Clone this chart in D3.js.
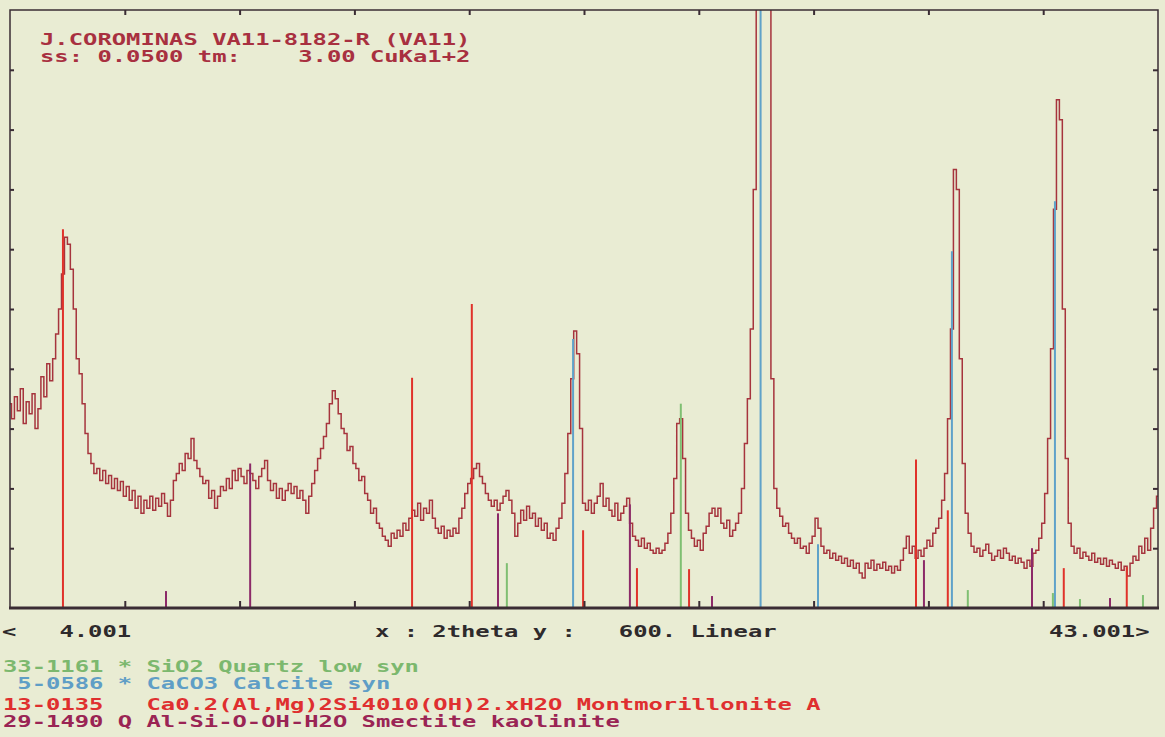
<!DOCTYPE html>
<html>
<head>
<meta charset="utf-8">
<script src="https://cdn.jsdelivr.net/npm/d3@7"></script>
<style>
html, body { margin: 0; padding: 0; background: #e9ecd3; }
svg { display: block; }
text { font-family: "DejaVu Sans Mono", monospace; font-weight: bold; }
</style>
</head>
<body>
<svg id="chart" width="1165" height="737"></svg>
<script>
/////////////////////////
// scan data (2theta, counts)
/////////////////////////
const scanStart = 4.001;
const scanEnd = 43.001;
const scanStep = 0.1;
const fullScale = 600;

// counts, one per scan step
const counts = [
  205,190,212,198,220,185,207,195,215,180,
  200,232,212,245,228,250,275,300,335,372,
  365,340,300,250,235,205,175,155,145,135,
  140,128,138,125,133,120,130,118,127,112,
  122,108,118,100,112,95,108,100,112,98,
  110,102,115,105,92,108,128,135,145,138,
  155,150,170,148,140,132,125,128,110,118,
  100,112,122,118,130,120,138,128,140,132,
  125,138,135,128,120,132,140,148,128,118,
  125,110,120,108,118,125,115,122,110,118,
  108,95,112,125,138,150,160,172,185,205,
  218,210,195,180,175,158,162,145,140,128,
  132,115,108,95,100,85,80,72,68,62,
  75,70,78,72,85,78,90,98,92,105,
  88,100,95,108,90,80,75,82,70,78,
  72,80,75,90,100,115,125,130,140,145,
  132,125,115,108,102,108,98,105,112,118,
  108,95,72,85,98,88,102,90,95,82,
  90,78,85,70,75,68,80,90,105,135,
  175,230,278,255,180,105,98,108,95,105,
  112,125,102,110,98,92,105,88,95,102,
  110,85,72,68,62,70,60,65,58,55,
  60,55,58,65,75,95,130,185,190,150,
  95,78,70,62,68,58,75,82,95,100,
  92,100,85,80,88,72,78,85,95,120,
  165,210,280,420,700,900,900,850,620,230,
  120,100,92,82,85,75,70,65,70,60,
  62,55,65,72,90,80,62,55,58,50,
  55,48,52,45,50,42,48,40,45,35,
  30,45,40,48,38,44,40,46,38,42,
  35,42,38,48,60,72,55,62,50,58,
  52,60,68,62,75,80,90,108,135,190,
  280,440,420,250,145,95,75,62,56,60,
  52,58,64,55,48,52,58,50,60,55,
  48,52,45,50,46,40,48,42,55,58,
  70,85,115,170,260,400,510,490,300,150,
  85,62,55,60,50,56,52,48,55,46,
  50,44,50,42,48,44,40,46,38,42,
  32,45,52,48,62,55,70,58,80,100,
  112
];

// reference cards: [2theta, stick height]
const quartzLines = [[20.88,45],[26.79,205],[36.54,18],[39.43,15],[40.35,9],[42.49,13]];
const calciteLines = [[23.13,270],[29.50,900],[31.45,64],[36.00,358],[39.50,408]];
const montmorilloniteLines = [[5.80,380],[17.66,231],[19.69,305],[23.47,78],[25.30,40],[27.07,39],[34.78,149],[35.86,98],[39.80,40],[41.94,41]];
const smectiteLines = [[9.30,17],[12.16,145],[20.58,95],[25.06,104],[27.85,12],[35.05,48],[38.72,60],[41.37,10]];

const headerLines = [
  "J.COROMINAS VA11-8182-R (VA11)",
  "ss: 0.0500 tm:    3.00 CuKa1+2"
];
const axisLine = "<   4.001                 x : 2theta y :   600. Linear                   43.001>";
const legendLines = [
  "33-1161 * SiO2 Quartz low syn",
  " 5-0586 * CaCO3 Calcite syn",
  "13-0135   Ca0.2(Al,Mg)2Si4010(OH)2.xH2O Montmorillonite A",
  "29-1490 Q Al-Si-O-OH-H2O Smectite kaolinite"
];

/////////////////////////
// layout
/////////////////////////
const W = 1165, H = 737;
const plot = { left: 10, right: 1158, top: 10, bottom: 608 };
const colW = W / 80; // 80 column text screen

const col = {
  trace: "#a6343d",
  quartz: "#7fbf72",
  calcite: "#5fa2c9",
  mont: "#e0322a",
  smec: "#8c2a68",
  axis: "#3a2c34",
  header: "#a83040"
};
const legendColors = ["#7cb86e", "#5f9ec6", "#df2f2f", "#9a2454"];

const x = d3.scaleLinear().domain([scanStart, scanEnd]).range([plot.left, plot.right]);
const y = d3.scaleLinear().domain([0, fullScale]).range([plot.bottom, plot.top]);

const svg = d3.select("#chart");
svg.append("rect").attr("width", W).attr("height", H).attr("fill", "#e9ecd3");

svg.append("defs").append("clipPath").attr("id", "clip")
  .append("rect")
  .attr("x", plot.left).attr("y", plot.top)
  .attr("width", plot.right - plot.left).attr("height", plot.bottom - plot.top);

const g = svg.append("g").attr("clip-path", "url(#clip)");

// trace
const pts = counts.map((c, i) => [scanStart + i * scanStep, c]);
g.append("path")
  .datum(pts)
  .attr("fill", "none")
  .attr("stroke", col.trace)
  .attr("stroke-width", 1.5)
  .attr("d", d3.line().x(d => x(d[0])).y(d => y(d[1])).curve(d3.curveStep));

// sticks
const cards = [
  { lines: montmorilloniteLines, color: col.mont },
  { lines: smectiteLines, color: col.smec },
  { lines: quartzLines, color: col.quartz },
  { lines: calciteLines, color: col.calcite }
];
cards.forEach(c => {
  g.append("g").selectAll("line")
    .data(c.lines)
    .enter().append("line")
    .attr("x1", d => x(d[0])).attr("x2", d => x(d[0]))
    .attr("y1", y(0)).attr("y2", d => y(d[1]))
    .attr("stroke", c.color)
    .attr("stroke-width", 2);
});

// frame + inward ticks
const xTicks = d3.range(1, 10).map(k => scanStart + k * (scanEnd - scanStart) / 10);
const yTicks = d3.range(1, 10).map(k => k * fullScale / 10);

function styleAxis(sel) {
  sel.selectAll("text").remove();
  sel.selectAll("line").attr("stroke", col.axis).attr("stroke-width", 2);
  sel.select(".domain").attr("stroke", "none");
}

svg.append("g").attr("transform", `translate(0,${plot.bottom})`)
  .call(d3.axisBottom(x).tickValues(xTicks).tickSize(-7).tickFormat("")).call(styleAxis);
svg.append("g").attr("transform", `translate(0,${plot.top})`)
  .call(d3.axisTop(x).tickValues(xTicks).tickSize(-5).tickFormat("")).call(styleAxis);
svg.append("g").attr("transform", `translate(${plot.left},0)`)
  .call(d3.axisLeft(y).tickValues(yTicks).tickSize(-4).tickFormat("")).call(styleAxis);
svg.append("g").attr("transform", `translate(${plot.right},0)`)
  .call(d3.axisRight(y).tickValues(yTicks).tickSize(-5).tickFormat("")).call(styleAxis);

svg.append("rect")
  .attr("x", plot.left).attr("y", plot.top)
  .attr("width", plot.right - plot.left).attr("height", plot.bottom - plot.top)
  .attr("fill", "none").attr("stroke", col.axis).attr("stroke-width", 1.5);
svg.append("line")
  .attr("x1", plot.left - 1).attr("x2", plot.right + 1)
  .attr("y1", plot.bottom).attr("y2", plot.bottom)
  .attr("stroke", col.axis).attr("stroke-width", 3);

/////////////////////////
// texts
/////////////////////////
function screenText(str, x0, baseline, color, size) {
  svg.append("text")
    .attr("x", x0).attr("y", baseline)
    .attr("font-size", size)
    .attr("fill", color)
    .attr("textLength", str.length * colW * 0.985)
    .attr("lengthAdjust", "spacingAndGlyphs")
    .attr("xml:space", "preserve")
    .style("white-space", "pre")
    .text(str);
}

screenText(headerLines[0], 40, 45, col.header, 16.5);
screenText(headerLines[1], 40, 62, col.header, 16.5);
screenText(axisLine, 2, 637, "#2e2a2c", 16.5);

const legendY = [672, 689, 710, 727];
legendLines.forEach((s, i) => screenText(s, 3, legendY[i], legendColors[i], 16.5));
</script>
</body>
</html>
